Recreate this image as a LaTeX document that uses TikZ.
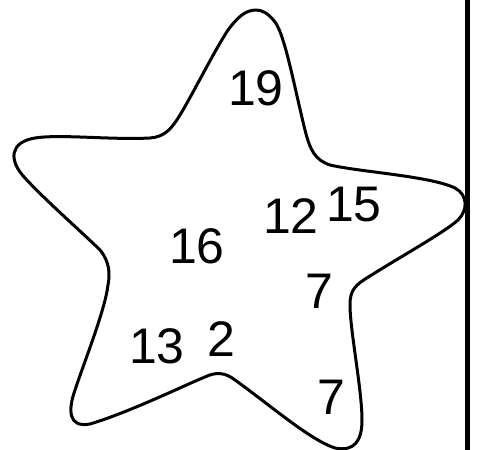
\documentclass[tikz,border=0pt]{standalone}
\usepackage{fontspec}
\setmainfont{Liberation Sans}
\usepackage{tikz}
\usetikzlibrary{positioning,calc}
\definecolor{ink}{RGB}{0,0,0}

\begin{document}
\begin{tikzpicture}[x=1pt,y=-1pt,
    num/.style={font=\fontsize{50}{54}\selectfont,inner sep=0pt,text=ink}]
    \useasboundingbox (0,0) rectangle (477,450);
    % the star
    \draw[ink,line width=3pt,line join=round]
      (256,10) .. controls (245,10) and (237,18) .. (228,30)
      .. controls (212,55) and (195,90) .. (180,115)
      .. controls (172,128) and (165,137) .. (150,138)
      .. controls (110,140) and (60,134) .. (35,138)
      .. controls (10,142) and (8,160) .. (25,178)
      .. controls (45,200) and (85,235) .. (100,250)
      .. controls (110,262) and (110,275) .. (108,285)
      .. controls (105,310) and (85,360) .. (75,390)
      .. controls (68,410) and (68,428) .. (90,424)
      .. controls (130,412) and (185,385) .. (205,377)
      .. controls (215,372) and (225,372) .. (235,380)
      .. controls (270,405) and (310,440) .. (335,448)
      .. controls (355,452) and (362,440) .. (362,420)
      .. controls (362,390) and (350,330) .. (350,305)
      .. controls (350,290) and (355,285) .. (370,276)
      .. controls (400,257) and (445,232) .. (458,220)
      .. controls (468,210) and (468,195) .. (455,188)
      .. controls (430,176) and (360,172) .. (330,165)
      .. controls (315,160) and (310,150) .. (305,130)
      .. controls (295,90) and (285,35) .. (275,22)
      .. controls (268,13) and (262,10) .. (256,10) -- cycle;
    % the wall on the right
    \draw[ink,line width=4.5pt] (467.5,0) -- (467.5,450);
    \foreach \x/\y/\t/\n in {
      256/88/19/a, 354/205/15/b, 291/216/12/c, 197/246/16/d,
      319/291/7/e, 157/346/13/f, 221/339/2/g, 331/397/7/h}
    {
      \node[num] (n\n) at (\x,\y) {\t};
    }
  \end{tikzpicture}
\end{document}
